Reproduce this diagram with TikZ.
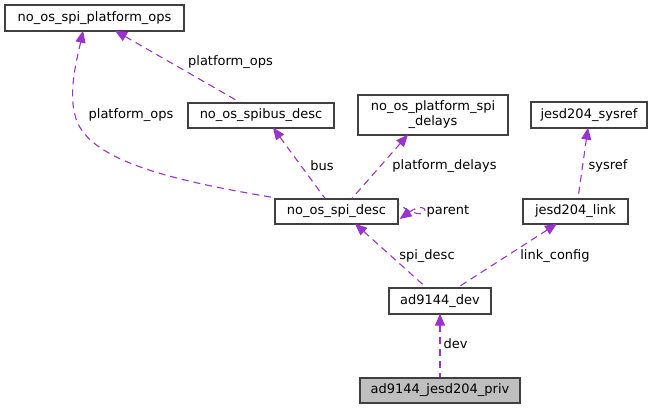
\documentclass[tikz,border=0pt]{standalone}
\usepackage{fontspec}
\setmainfont{DejaVu Sans}
\usetikzlibrary{arrows.meta}
\definecolor{edgec}{HTML}{9A32CD}
\definecolor{privfill}{HTML}{BFBFBF}
\tikzset{
  box/.style={draw=black!75, line width=1.3pt, fill=white, inner sep=0pt, align=center, font=\fontsize{13}{15}\selectfont},
  lbl/.style={font=\fontsize{13}{15}\selectfont, inner sep=0pt},
  rel/.style={draw=edgec, line width=1.1pt, dash pattern=on 7pt off 5pt, {Triangle[length=12pt,width=10pt,fill=edgec]}-},
}
\begin{document}
\begin{tikzpicture}[x=1pt,y=-1pt]
\useasboundingbox (0,0) rectangle (657,409);
\fill[white] (0,0) rectangle (657,409);
\node[box, minimum width=179pt, minimum height=26pt] (A) at (94.5,18) {no\_os\_spi\_platform\_ops};
\node[box, minimum width=146pt, minimum height=25pt] (B) at (261,115.5) {no\_os\_spibus\_desc};
\node[box, minimum width=123pt, minimum height=25pt] (C) at (336.5,211.5) {no\_os\_spi\_desc};
\node[box, minimum width=150pt, minimum height=40pt] (D) at (433,115) {no\_os\_platform\_spi\\\_delays};
\node[box, minimum width=116pt, minimum height=26pt] (E) at (589,115) {jesd204\_sysref};
\node[box, minimum width=105pt, minimum height=25pt] (F) at (575.5,211.5) {jesd204\_link};
\node[box, minimum width=102pt, minimum height=26pt] (G) at (440,301) {ad9144\_dev};
\node[box, minimum width=160pt, minimum height=25pt, fill=privfill] (H) at (440,390.5) {ad9144\_jesd204\_priv};

\path[rel] ([xshift=20.5pt,yshift=1pt]A.south) -- ([xshift=-21pt]B.north);
\path[rel] ([xshift=-11.5pt,yshift=1pt]A.south) .. controls (78,55) and (68,90) .. (75,115) .. controls (85,160) and (170,180) .. ([xshift=-2pt,yshift=1pt]C.north west);
\path[rel] ([xshift=12pt,yshift=1pt]B.south) -- ([xshift=-11.5pt]C.north);
\path[rel] ([xshift=-25pt,yshift=1pt]D.south) -- ([xshift=15.5pt]C.north);
\path[rel] ([xshift=1pt,yshift=-7.5pt]C.east) .. controls (432,196) and (432,229) .. ([yshift=7.5pt]C.east);
\path[rel] ([xshift=18.5pt,yshift=1pt]C.south) -- ([xshift=-14pt]G.north);
\path[rel] ([xshift=-18.5pt,yshift=1pt]F.south) -- ([xshift=18pt]G.north);
\path[rel] ([xshift=-1pt,yshift=1pt]E.south) -- ([xshift=2.5pt]F.north);
\path[rel] ([yshift=1pt]G.south) -- (H.north);

\node[lbl] (l1) at (230.5,62) {platform\_ops};
\node[lbl] (l2) at (131,115) {platform\_ops};
\node[lbl] (l3) at (322,166) {bus};
\node[lbl] (l4) at (444.5,166) {platform\_delays};
\node[lbl] (l5) at (448,211) {parent};
\node[lbl] (l6) at (427,256) {spi\_desc};
\node[lbl] (l7) at (555,256) {link\_config};
\node[lbl] (l8) at (608,166) {sysref};
\node[lbl] (l9) at (455.5,344) {dev};
\end{tikzpicture}
\end{document}
